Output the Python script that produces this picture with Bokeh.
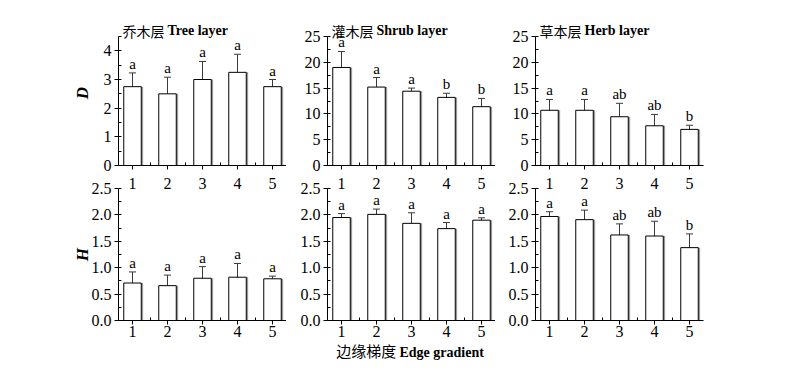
from bokeh.plotting import figure
from bokeh.layouts import column, row
from bokeh.models import (Range1d, ColumnDataSource, Whisker, TeeHead, Label,
                          FixedTicker, SingleIntervalTicker, LinearAxis,
                          PrintfTickFormatter, Div, Spacer)
from bokeh.core.properties import value
from bokeh.embed import file_html
from bokeh.resources import INLINE

# ---------------- data ----------------
gradient = [1, 2, 3, 4, 5]

tree_D = [2.75, 2.50, 3.00, 3.25, 2.75]
tree_D_err = [0.48, 0.58, 0.63, 0.63, 0.25]
tree_D_sig = ["a", "a", "a", "a", "a"]

shrub_D = [19.0, 15.2, 14.4, 13.2, 11.4]
shrub_D_err = [3.1, 1.85, 0.6, 0.8, 1.6]
shrub_D_sig = ["a", "a", "a", "b", "b"]

herb_D = [10.7, 10.7, 9.45, 7.7, 7.0]
herb_D_err = [2.1, 2.1, 2.6, 2.2, 0.8]
herb_D_sig = ["a", "a", "ab", "ab", "b"]

tree_H = [0.71, 0.66, 0.80, 0.82, 0.79]
tree_H_err = [0.21, 0.20, 0.22, 0.26, 0.05]
tree_H_sig = ["a", "a", "a", "a", "a"]

shrub_H = [1.95, 2.01, 1.84, 1.74, 1.90]
shrub_H_err = [0.075, 0.10, 0.20, 0.115, 0.045]
shrub_H_sig = ["a", "a", "a", "a", "a"]

herb_H = [1.97, 1.91, 1.62, 1.60, 1.38]
herb_H_err = [0.09, 0.18, 0.21, 0.28, 0.26]
herb_H_sig = ["a", "a", "ab", "ab", "b"]

layer_cn = ["乔木层", "灌木层", "草本层"]
layer_en = ["Tree layer", "Shrub layer", "Herb layer"]
xlabel_cn = "边缘梯度"
xlabel_en = "Edge gradient"
ylabels = ["D", "H"]

SERIF = "Liberation Serif"
CJK = "Noto Sans CJK SC"
FRAME_W = 168
TOP_FRAME_H = 129
BOT_FRAME_H = 132
TOP_PAD = 16          # extra frame room above the axis top, for the panel titles
LEFTS = [118, 41, 40]
RIGHTS = [0, 0, 20]
BAR_W = 0.5


def style_axes(p, y_end, y_interval, y_fmt, top):
    p.xaxis.ticker = FixedTicker(ticks=gradient, minor_ticks=[1.5, 2.5, 3.5, 4.5])
    p.yaxis.ticker = SingleIntervalTicker(interval=y_interval, num_minor_ticks=2)
    p.yaxis.formatter = PrintfTickFormatter(format=y_fmt)
    p.yaxis.bounds = (0, y_end)
    for ax in (p.xaxis, p.yaxis):
        ax.axis_line_color = "black"
        ax.axis_line_width = 1
        ax.major_tick_line_color = "black"
        ax.minor_tick_line_color = "black"
        ax.major_tick_out = 4
        ax.major_tick_in = 0
        ax.minor_tick_out = 0
        ax.minor_tick_in = 3
        ax.major_label_text_font = SERIF
        ax.major_label_text_font_size = "16px"
        ax.major_label_text_color = "black"
    p.yaxis.major_label_standoff = 3
    if top:
        # tick labels of this axis are drawn by the panel below (shared x scale)
        p.xaxis.major_label_text_color = None
        p.xaxis.major_label_standoff = 0
    else:
        p.xaxis.major_label_standoff = 1


def make_panel(col, means, errs, sigs, y_end, y_interval, y_fmt, top):
    pad = TOP_PAD if top else 0
    fh = TOP_FRAME_H if top else BOT_FRAME_H
    y_top = y_end * (fh + pad) / fh
    p = figure(x_range=Range1d(0.6, 5.4), y_range=Range1d(0, y_top),
               frame_width=FRAME_W, frame_height=fh + pad,
               min_border_left=LEFTS[col], min_border_right=RIGHTS[col],
               min_border_top=20 if top else 10,
               min_border_bottom=9 if top else 18,
               output_backend="svg", toolbar_location=None)
    p.outline_line_color = None
    p.grid.visible = False
    p.background_fill_color = "white"
    p.border_fill_color = "white"
    style_axes(p, y_end, y_interval, y_fmt, top)

    upper = [m + e for m, e in zip(means, errs)]
    lower = [m - e for m, e in zip(means, errs)]
    right_edge = [x + BAR_W / 2 + 0.025 for x in gradient]
    zeros = [0] * len(gradient)
    src = ColumnDataSource(dict(x=gradient, top=means, upper=upper, lower=lower,
                                sig=sigs, xr=right_edge, y0=zeros))
    # grey shading along the right side of each bar
    p.segment(x0="xr", x1="xr", y0="y0", y1="top", source=src,
              line_color="#9a9a9a", line_width=2)
    p.vbar(x="x", top="top", width=BAR_W, source=src, fill_color="white",
           line_color="black", line_width=1)
    w = Whisker(base="x", upper="upper", lower="lower", source=src,
                line_color="#3a3a3a", line_width=1,
                upper_head=TeeHead(size=7, line_color="#3a3a3a", line_width=1),
                lower_head=TeeHead(size=7, line_color="#3a3a3a", line_width=1))
    p.add_layout(w)
    p.text(x="x", y="upper", text="sig", source=src, text_align="center",
           text_baseline="bottom", y_offset=-1, text_font=value(SERIF),
           text_font_size="15px", text_color="black")

    if top:
        p.add_layout(Label(x=0.6, y=y_end, x_offset=4, y_offset=6, text=layer_cn[col],
                           text_font=CJK, text_font_size="14px", text_baseline="middle",
                           text_align="left", text_color="black"))
        p.add_layout(Label(x=0.6, y=y_end, x_offset=49, y_offset=6, text=layer_en[col],
                           text_font=SERIF, text_font_style="bold", text_font_size="14px",
                           text_baseline="middle", text_align="left", text_color="black"))
    else:
        ax = LinearAxis(ticker=FixedTicker(ticks=gradient), axis_line_color=None,
                        major_tick_line_color=None, minor_tick_line_color=None,
                        major_tick_out=0, major_tick_in=0, major_label_standoff=0,
                        major_label_text_font=SERIF, major_label_text_font_size="16px",
                        major_label_text_color="black")
        p.add_layout(ax, "above")

    if col == 0:
        p.yaxis.axis_label = ylabels[0] if top else ylabels[1]
        p.yaxis.axis_label_text_font = SERIF
        p.yaxis.axis_label_text_font_style = "bold italic"
        p.yaxis.axis_label_text_font_size = "17px"
        p.yaxis.axis_label_text_color = "black"
        p.yaxis.axis_label_standoff = 9 if top else -3
    return p


t1 = make_panel(0, tree_D, tree_D_err, tree_D_sig, 4.5, 1, "%d", True)
t2 = make_panel(1, shrub_D, shrub_D_err, shrub_D_sig, 25, 5, "%d", True)
t3 = make_panel(2, herb_D, herb_D_err, herb_D_sig, 25, 5, "%d", True)
b1 = make_panel(0, tree_H, tree_H_err, tree_H_sig, 2.5, 0.5, "%.1f", False)
b2 = make_panel(1, shrub_H, shrub_H_err, shrub_H_sig, 2.5, 0.5, "%.1f", False)
b3 = make_panel(2, herb_H, herb_H_err, herb_H_sig, 2.5, 0.5, "%.1f", False)

xtitle = Div(
    text=(f'<span style="font-family:\'{CJK}\';font-size:15px;">{xlabel_cn}</span>'
          f'&nbsp;<span style="font-family:\'{SERIF}\';font-weight:bold;font-size:14px;">'
          f'{xlabel_en}</span>'),
    width=200, height=20,
    styles={"text-align": "center", "line-height": "14px", "color": "black",
            "white-space": "nowrap"})

layout = column(row(t1, t2, t3), row(b1, b2, b3), row(Spacer(width=305, height=20), xtitle))
open("out.html", "w").write(file_html(layout, INLINE))
